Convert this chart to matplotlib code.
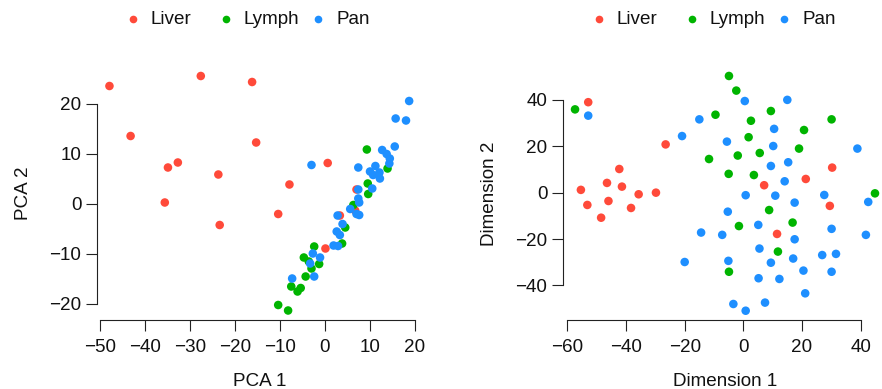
import matplotlib
matplotlib.use("Agg")
import matplotlib.pyplot as plt

plt.rcParams['font.family'] = ['Liberation Sans', 'DejaVu Sans']
plt.rcParams['font.size'] = 13.6

# groups and colours
groups = ["Liver", "Lymph", "Pan"]
colors = ["#FF4A3A", "#00B400", "#1E8FFF"]

# PCA coordinates (left panel)
liver_pca_x = [-47.9, -27.6, -16.2, -43.2, -15.3, -34.9, -32.7, -23.7, -7.9, 0.6, -35.6, -10.4, -23.4, 7.0, 3.3, 6.7, 0.1]
liver_pca_y = [23.6, 25.6, 24.4, 13.6, 12.3, 7.3, 8.3, 5.9, 3.9, 8.2, 0.3, -2.0, -4.2, 2.9, -2.3, -1.3, -8.9]
lymph_pca_x = [9.3, 13.9, 9.5, 9.6, 6.3, 4.5, 3.8, -2.4, -4.7, -3.6, -1.3, -3.0, -4.3, -5.4, -7.5, -6.1, -10.4, -8.2]
lymph_pca_y = [10.9, 7.1, 4.1, 2.0, -0.2, -4.7, -7.9, -8.5, -10.7, -11.5, -12.0, -12.9, -14.5, -16.8, -16.5, -17.5, -20.2, -21.3]
pan_pca_x = [18.7, 15.7, 18.0, 15.5, 12.7, 13.7, 14.4, 14.3, 11.2, 10.0, 12.1, 10.7, 12.2, 10.5, 7.4, -3.0, 7.4,
             7.4, 7.6, 5.6, 7.0, 7.6, 2.8, 3.9, 2.6, 3.3, 1.9, 2.9, -2.7, -1.1, -3.3, -2.4, -7.3]
pan_pca_y = [20.6, 17.1, 16.7, 11.5, 10.8, 10.0, 9.1, 8.1, 7.6, 6.5, 6.3, 5.8, 5.1, 3.1, 7.3, 7.8, 2.9,
             1.1, 0.3, -1.0, -2.0, -2.2, -2.3, -4.0, -5.5, -6.2, -8.3, -8.4, -9.9, -10.7, -11.9, -14.5, -14.9]

# MDS / embedding coordinates (right panel)
liver_dim_x = [-52.9, -26.5, -42.3, -46.5, -41.4, -55.4, -35.7, -29.8, -46.0, -53.2, -38.3, -48.5, 30.3, 21.3, 7.1, 29.5, 11.5]
liver_dim_y = [39.0, 20.8, 10.2, 4.2, 2.6, 1.2, -0.7, 0.0, -3.6, -5.3, -6.6, -10.8, 10.8, 5.9, 3.2, -5.7, -17.8]
lymph_dim_x = [-57.4, -4.9, -2.4, -9.5, 9.4, 2.6, 30.1, 20.7, 1.8, 19.0, 5.6, -1.9, -11.7, -5.0, 3.6, 44.9, 8.8,
               16.8, -1.5, 11.8, -4.9]
lymph_dim_y = [35.9, 50.3, 44.0, 33.6, 35.2, 31.0, 31.6, 27.0, 23.9, 19.0, 17.1, 16.0, 14.5, 8.1, 7.6, -0.3, -7.5,
               -12.9, -14.4, -25.4, -34.1]
pan_dim_x = [-52.9, 0.5, 15.0, -15.0, -20.9, 10.5, -5.6, 10.2, 38.9, 15.3, 9.4, 14.1, 0.8, 10.9, 27.6, 17.5, 42.6,
             -5.3, 5.1, -14.4, -7.2, 30.1, 41.8, 17.5, 5.5, -20.0, -5.1, 9.4, 17.0, 26.9, 31.6, 20.5, 30.1, 5.2,
             12.3, 21.1, -3.4, 0.8, 7.4]
pan_dim_y = [33.2, 39.5, 40.0, 31.6, 24.4, 27.5, 22.0, 20.1, 19.0, 13.1, 11.5, 4.9, -1.1, -1.3, -1.0, -4.3, -4.0,
             -8.2, -13.9, -17.2, -18.2, -15.6, -18.2, -20.1, -24.1, -29.9, -29.4, -30.2, -28.4, -26.9, -26.4, -33.6,
             -34.1, -36.9, -37.2, -43.4, -48.0, -50.9, -47.4]

left_xticks = [-50, -40, -30, -20, -10, 0, 10, 20]
left_yticks = [-20, -10, 0, 10, 20]
right_xticks = [-60, -40, -20, 0, 20, 40]
right_yticks = [-40, -20, 0, 20, 40]

W, H = 882, 389
fig = plt.figure(figsize=(W / 100, H / 100), dpi=100)

ink = "#222222"


def panel(rect_px, xs, ys, xlim, ylim, xticks, yticks, xlabel, ylabel, ylab_px):
    l, t, r, b = rect_px
    ax = fig.add_axes([l / W, (H - b) / H, (r - l) / W, (b - t) / H])
    for x, y, c in zip(xs, ys, colors):
        ax.scatter(x, y, s=38, color=c, edgecolors="none", clip_on=False, zorder=3)
    ax.set_xlim(*xlim)
    ax.set_ylim(*ylim)
    ax.set_xticks(xticks)
    ax.set_yticks(yticks)
    ax.set_xticklabels([str(v).replace("-", "\u2212") for v in xticks])
    ax.set_yticklabels([str(v).replace("-", "\u2212") for v in yticks])
    for s in ["top", "right"]:
        ax.spines[s].set_visible(False)
    ax.spines["bottom"].set_bounds(xticks[0], xticks[-1])
    ax.spines["left"].set_bounds(yticks[0], yticks[-1])
    for s in ["bottom", "left"]:
        ax.spines[s].set_color(ink)
        ax.spines[s].set_linewidth(0.8)
    ax.tick_params(axis="x", length=8, width=0.8, color=ink, labelcolor="#111111", pad=6)
    ax.tick_params(axis="y", length=8, width=0.8, color=ink, labelcolor="#111111", pad=3.5)
    ax.set_xlabel(xlabel, va="center", color="#111111")
    ax.set_ylabel(ylabel, va="center", color="#111111")
    ax.xaxis.set_label_coords(0.5, -(381 - b) / (b - t))
    ax.yaxis.set_label_coords(-(l - ylab_px) / (r - l), 0.5)

    # horizontal legend above the panel, equal column widths
    for i, (g, c) in enumerate(zip(groups, colors)):
        mx = l + 35.7 + i * 92.5
        fig.lines.append(plt.Line2D([mx / W], [(H - 19) / H], transform=fig.transFigure,
                                    marker="o", markersize=5.5, color=c, markeredgewidth=0,
                                    linestyle="none"))
        fig.text((mx + 18) / W, (H - 19) / H, g, ha="left", va="center", color="#111111")
    return ax


panel((97.3, 66.5, 421.3, 320), [liver_pca_x, lymph_pca_x, pan_pca_x], [liver_pca_y, lymph_pca_y, pan_pca_y],
      (-50.6, 21.4), (-23.2, 27.5), left_xticks, left_yticks, "PCA 1", "PCA 2", 23)
panel((563.3, 66.7, 887, 320), [liver_dim_x, lymph_dim_x, pan_dim_x], [liver_dim_y, lymph_dim_y, pan_dim_y],
      (-61.4, 49.0), (-54.9, 54.3), right_xticks, right_yticks, "Dimension 1", "Dimension 2", 489)

fig.savefig("out.png", dpi=100)
